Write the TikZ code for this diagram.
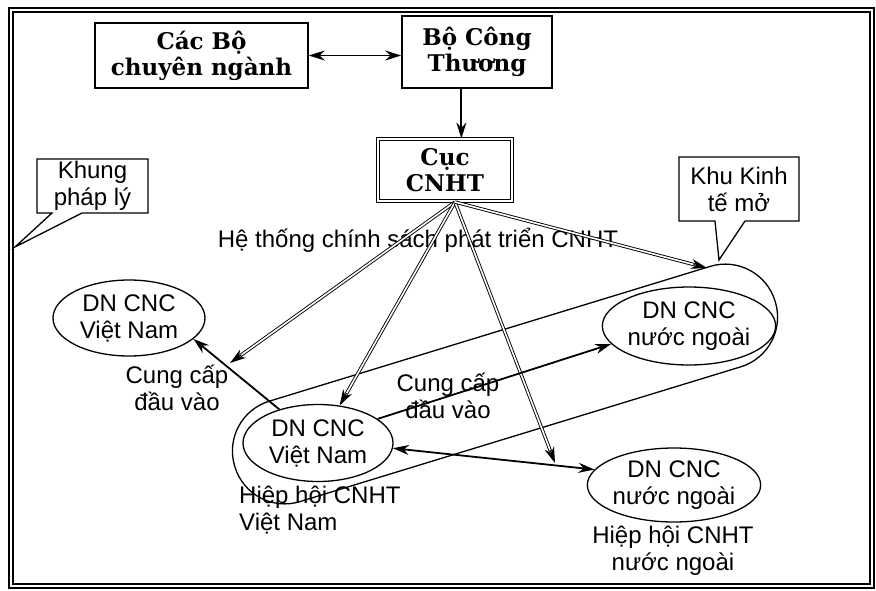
\documentclass[tikz,border=0pt]{standalone}
\usepackage{fontspec}
\setmainfont{Liberation Sans}
\newfontfamily\boxfont{DejaVu Serif}
\usetikzlibrary{arrows.meta,calc,shapes.geometric,shapes.callouts}

\begin{document}
\begin{tikzpicture}[x=1pt,y=-1pt,
  every node/.style={inner sep=0pt, align=center, font=\fontsize{24}{27}\selectfont},
  box/.style={draw, line width=1.6pt, font=\boxfont\bfseries\fontsize{23}{26}\selectfont},
  firm/.style={draw, ellipse, line width=1.3pt},
  note/.style={draw, rectangle callout, line width=1.3pt, callout pointer width=30pt},
  tip/.style={-{Stealth[length=16pt,width=10pt]}},
  both/.style={{Stealth[length=16pt,width=10pt]}-{Stealth[length=16pt,width=10pt]}},
  link/.style={tip, line width=1.8pt},
  policy/.style={double, double distance=1.6pt, line width=0.9pt, shorten >=12pt}]
  \useasboundingbox (0,0) rectangle (876,590);
% frame
  \draw [line width=1.2pt] (9,8) rectangle (874,588);
  \draw [line width=1.2pt] (13,12) rectangle (870,584);

% top boxes
  \node [box, minimum width=213pt, minimum height=65pt] (cacbo) at (201.5,55.5) {Các Bộ\\chuyên ngành};
  \node [box, minimum width=150pt, minimum height=72pt] (bocong) at (477,52) {Bộ Công\\Thương};
  \node [box, double, double distance=2pt, line width=0.9pt, minimum width=134pt, minimum height=62pt] (cuc) at (445,170) {Cục\\CNHT};

% callouts
  \node [note, minimum width=111pt, minimum height=54pt, callout absolute pointer={(15,247)}] (khung) at (92.5,186) {Khung\\pháp lý};
  \node [note, minimum width=120pt, minimum height=64pt, callout absolute pointer={(719,260)}] (khu) at (739,189) {Khu Kinh\\tế mở};

% firms
  \node [firm, minimum width=152pt, minimum height=76pt] (vn1) at (129,318) {DN CNC\\Việt Nam};
  \node [firm, minimum width=166pt, minimum height=78pt] (nn1) at (689,326) {DN CNC\\nước ngoài};
  \node [firm, minimum width=150pt, minimum height=77pt] (vn2) at (318,443) {DN CNC\\Việt Nam};
  \node [firm, minimum width=166pt, minimum height=74pt] (nn2) at (674,485) {DN CNC\\nước ngoài};
  \node [draw, line width=1.3pt, rounded corners=52pt, minimum width=565pt, minimum height=105pt, rotate=17] (zone) at (505,384) {};

% labels
  \node (policytxt) at (418,240) {Hệ thống chính sách phát triển CNHT};
  \node (supply1) at (177,388) {Cung cấp\\đầu vào};
  \node (supply2) at (448,396) {Cung cấp\\đầu vào};
  \node [anchor=west, align=left] (assocvn) at (239,510) {Hiệp hội CNHT\\Việt Nam};
  \node (assocnn) at (673,551) {Hiệp hội CNHT\\nước ngoài};

% arrows
  \draw [both, line width=1.2pt] (cacbo.east) -- (cacbo.east -| bocong.west);
  \draw [link] (bocong.247) -- (bocong.247 |- cuc.north);

  % policy lines, double with a solid head
  \coordinate (hub) at (455,202);
  \coordinate (toVN) at (230,363);
  \coordinate (toNN) at (555,463);
  \coordinate (toZone) at (707,268);
  \draw [policy] (hub) -- (toVN);
  \draw [policy] (hub) -- (vn2.60);
  \draw [policy] (hub) -- (toNN);
  \draw [policy] (hub) -- (toZone);
  \draw [link, line width=1pt] ($(toVN)!14pt!(hub)$) -- (toVN);
  \draw [link, line width=1pt] ($(vn2.60)!14pt!(hub)$) -- (vn2.60);
  \draw [link, line width=1pt] ($(toNN)!14pt!(hub)$) -- (toNN);
  \draw [link, line width=1pt] ($(toZone)!14pt!(hub)$) -- (toZone);

  \draw [link] (vn2.139) -- (vn1.-18);
  \draw [link] (vn2.22) -- (nn1.193);
  \draw [both, line width=1.8pt] (vn2.-4) -- (nn2.169);
\end{tikzpicture}
\end{document}
